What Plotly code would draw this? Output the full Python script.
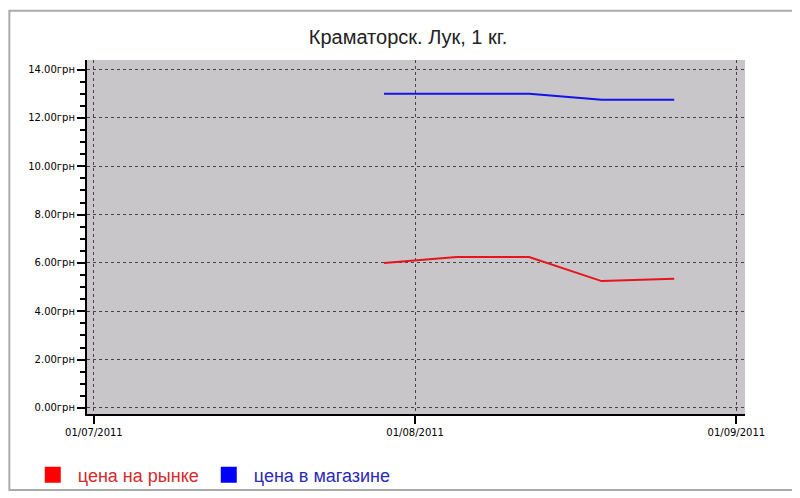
import plotly.graph_objects as go

dates = ['2011-07-29', '2011-08-05', '2011-08-12', '2011-08-19', '2011-08-26']
market = [6.0, 6.25, 6.25, 5.25, 5.35]
shop = [13.0, 13.0, 13.0, 12.75, 12.75]
xticks = ['2011-07-01', '2011-08-01', '2011-09-01']
xlabels = ['01/07/2011', '01/08/2011', '01/09/2011']
yticks = [0, 2, 4, 6, 8, 10, 12, 14]
ylabels = ['%.2fгрн' % v for v in yticks]

fig = go.Figure()
fig.add_trace(go.Scatter(x=dates, y=market, mode='lines', line=dict(color='#e8141c', width=2), showlegend=False))
fig.add_trace(go.Scatter(x=dates, y=shop, mode='lines', line=dict(color='#1414e8', width=2), showlegend=False))
# legend entries with square markers
fig.add_trace(go.Scatter(x=[None], y=[None], mode='markers', name='<span style="color:#d42a2a">цена на рынке</span>',
                         marker=dict(symbol='square', size=20, color='#ff0000')))
fig.add_trace(go.Scatter(x=[None], y=[None], mode='markers', name='<span style="color:#2a2ab4">цена в магазине</span>      ',
                         marker=dict(symbol='square', size=20, color='#0000ff')))

fig.update_layout(
    width=800, height=498,
    margin=dict(l=79, r=63, t=52, b=80),
    paper_bgcolor='white', plot_bgcolor='#c8c6c8',
    font=dict(family='DejaVu Sans', color='black'),
    title=dict(text='Краматорск. Лук, 1 кг.', x=0.5, y=0.955, xanchor='center',
               font=dict(family='Liberation Sans', size=20, color='#222222')),
    legend=dict(orientation='h', x=-0.09, y=-0.12, xanchor='left', yanchor='top',
                font=dict(family='Liberation Sans', size=18), itemwidth=40,
                bgcolor='rgba(0,0,0,0)', tracegroupgap=0),
    xaxis=dict(type='date', range=['2011-06-30 08:00', '2011-09-01 20:00'], automargin=False,
               tickvals=xticks, ticktext=xlabels, tickfont=dict(size=10),
               ticks='outside', ticklen=8, tickwidth=2, tickcolor='black',
               showline=True, linecolor='black', linewidth=2,
               showgrid=True, gridcolor='#444444', griddash='dot', gridwidth=1, zeroline=False),
    yaxis=dict(range=[-0.25, 14.4], automargin=False, tickvals=yticks, ticktext=ylabels, tickfont=dict(size=10),
               ticks='outside', ticklen=8, tickwidth=2, tickcolor='black',
               minor=dict(dtick=0.5, ticks='outside', ticklen=5, tickcolor='black', showgrid=False),
               showline=True, linecolor='black', linewidth=2,
               showgrid=True, gridcolor='#444444', griddash='dot', gridwidth=1, zeroline=False),
)
fig.add_shape(type='rect', xref='paper', yref='paper', x0=-0.118, x1=1.094, y0=-0.215, y1=1.139,
              line=dict(color='#aaaaaa', width=2))
fig.write_html("out.html")
